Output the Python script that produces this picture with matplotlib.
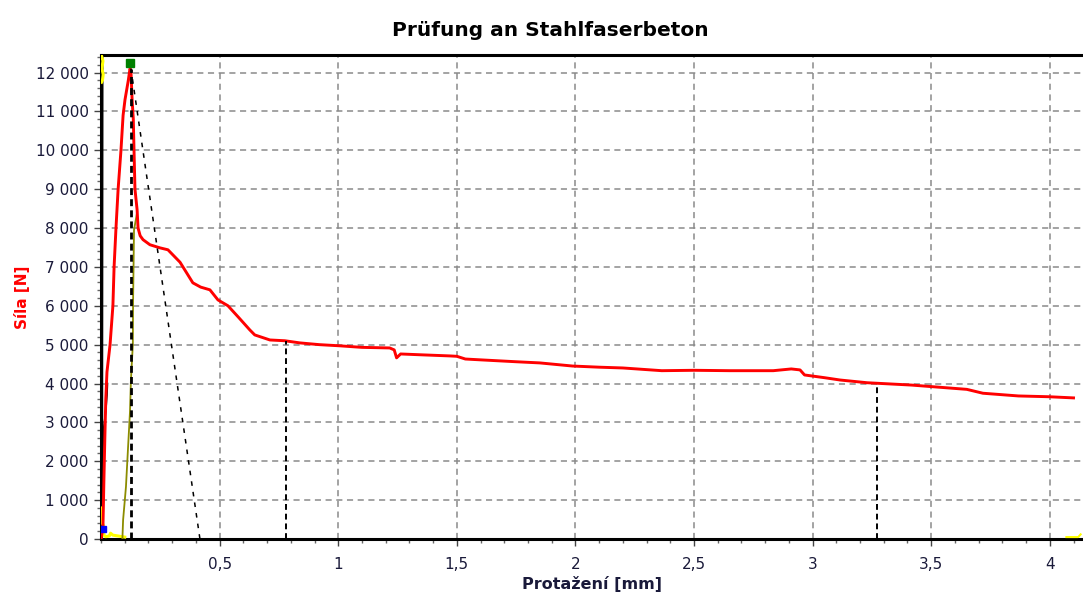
import matplotlib
matplotlib.use('Agg')
from matplotlib import pyplot as plt
from matplotlib.ticker import FixedLocator, FuncFormatter, MultipleLocator

# hlavni krivka (Protazeni [mm], Sila [N])
red_x = [0.0, 0.008, 0.012, 0.016, 0.020, 0.025, 0.038, 0.050, 0.055, 0.063, 0.072, 0.084, 0.093, 0.101, 0.115, 0.122,
         0.126, 0.131, 0.136, 0.139, 0.143, 0.152, 0.156, 0.165, 0.177, 0.206, 0.248, 0.282, 0.333, 0.387,
         0.420, 0.459, 0.493, 0.535, 0.580, 0.627, 0.648, 0.712, 0.775, 0.838, 0.920, 1.006, 1.100, 1.217,
         1.236, 1.246, 1.263, 1.343, 1.470, 1.500, 1.536, 1.596, 1.750, 1.850, 1.987, 2.100, 2.200, 2.364,
         2.500, 2.650, 2.834, 2.910, 2.947, 2.966, 3.050, 3.116, 3.230, 3.417, 3.586, 3.650, 3.718, 3.868,
         3.996, 4.100]
red_y = [0, 300, 1500, 2600, 3600, 4300, 5000, 6000, 7000, 8000, 9000, 10000, 10900, 11300, 11800, 12100,
         12050, 11300, 10800, 10000, 9000, 8470, 8000, 7800, 7700, 7570, 7490, 7440, 7120, 6590,
         6480, 6410, 6150, 6000, 5700, 5380, 5250, 5120, 5100, 5045, 5000, 4970, 4930, 4915,
         4865, 4660, 4760, 4740, 4710, 4700, 4630, 4610, 4560, 4530, 4450, 4420, 4400, 4330,
         4340, 4330, 4330, 4375, 4350, 4220, 4150, 4090, 4020, 3960, 3880, 3850, 3750, 3680,
         3660, 3630]

olive_x = [0.090, 0.093, 0.105, 0.114, 0.122, 0.126, 0.134, 0.135, 0.139, 0.152]
olive_y = [0, 490, 1340, 2370, 3270, 4090, 5000, 6100, 7950, 8400]

black_x = [0.002, 0.003, 0.004]
black_y = [0, 6000, 12450]
black2_x = [0.004, 0.008, 0.012, 0.020, 0.025, 0.027]
black2_y = [800, 2300, 2900, 3300, 3700, 4000]

yellow_top_x = [0.001, 0.008, 0.004, 0.009, 0.006, 0.002]
yellow_top_y = [12450, 12300, 12100, 11950, 11800, 11750]
yellow_bot_x = [0.004, 0.006, 0.010, 0.012, 0.020, 0.035, 0.040, 0.050, 0.090, 0.100]
yellow_bot_y = [800, 400, 350, 100, 60, 80, 150, 100, 60, 50]
yellow_end_x = [4.07, 4.12, 4.13]
yellow_end_y = [50, 50, 120]

# pomocne cary
peak_x, peak_y = 0.126, 12100
slope_end_x = 0.417
mark1_x, mark1_y = 0.779, 5100
mark2_x, mark2_y = 3.27, 4000
green_x, green_y = 0.124, 12250
blue_x, blue_y = 0.008, 250

x_ticks = [0.5, 1, 1.5, 2, 2.5, 3, 3.5, 4]
y_ticks = list(range(0, 13000, 1000))

plt.rcParams['font.family'] = ['DejaVu Sans']
fig = plt.figure(figsize=(10.83, 5.96), dpi=100)
ax = fig.add_axes([0.0933, 0.0956, 0.9067, 0.8121])

ax.plot(black_x, black_y, color='black', linewidth=2.2, zorder=3)
ax.plot(black2_x, black2_y, color='black', linewidth=1.2, zorder=3)
ax.plot(yellow_top_x, yellow_top_y, color='#ffff00', linewidth=2.2, zorder=3)
ax.plot(yellow_bot_x, yellow_bot_y, color='#ffff00', linewidth=2.2, zorder=3)
ax.plot(yellow_end_x, yellow_end_y, color='#ffff00', linewidth=1.5, zorder=3)
ax.plot(olive_x, olive_y, color='#8c8c00', linewidth=1.3, zorder=3)
ax.plot(red_x, red_y, color='#ff0000', linewidth=2.1, zorder=4)

ax.plot([peak_x, peak_x], [0, peak_y], color='black', linewidth=2, dashes=(2.5, 1.5), zorder=5)
ax.plot([peak_x, slope_end_x], [peak_y, 0], color='black', linewidth=1.1, dashes=(3, 4), zorder=5)
ax.plot([mark1_x, mark1_x], [0, mark1_y], color='black', linewidth=1.4, dashes=(3, 2), zorder=5)
ax.plot([mark2_x, mark2_x], [0, mark2_y], color='black', linewidth=1.4, dashes=(3, 2), zorder=5)
ax.plot([green_x], [green_y], marker='s', color='#008000', markersize=6, zorder=6)
ax.plot([blue_x], [blue_y], marker='s', color='#0000ff', markersize=4, zorder=6)

ax.set_xlim(0, 4.14)
ax.set_ylim(0, 12450)
ax.xaxis.set_major_locator(FixedLocator(x_ticks))
ax.xaxis.set_minor_locator(MultipleLocator(0.1))
ax.yaxis.set_major_locator(FixedLocator(y_ticks))
ax.yaxis.set_minor_locator(MultipleLocator(200))
ax.xaxis.set_major_formatter(FuncFormatter(lambda v, p: f'{v:g}'.replace('.', ',')))
ax.yaxis.set_major_formatter(FuncFormatter(lambda v, p: f'{int(v):,}'.replace(',', ' ')))

ax.grid(True, which='major', color='#8a8a8a', linestyle=(0, (4, 3)), linewidth=1.1)
ax.set_axisbelow(True)
ax.tick_params(axis='both', which='major', length=5, width=1, color='#444444',
               labelsize=11, labelcolor='#1a1a3a', pad=4)
ax.tick_params(axis='both', which='minor', length=3, width=1, color='#666666')
ax.tick_params(axis='x', which='major', pad=8)

for s in ['top', 'bottom', 'left']:
    ax.spines[s].set_linewidth(2.2)
    ax.spines[s].set_color('black')
ax.spines['right'].set_visible(False)

ax.set_xlabel('Protažení [mm]', fontsize=11.5, fontweight='bold', color='#1a1a3a', labelpad=3)
ax.set_ylabel('Síla [N]', fontsize=11, fontweight='bold', color='#ff0000', labelpad=4)
ax.set_title('Prüfung an Stahlfaserbeton', fontsize=14.5, fontweight='bold', color='black',
             pad=14, x=0.458)

fig.savefig('out.png', dpi=100)
